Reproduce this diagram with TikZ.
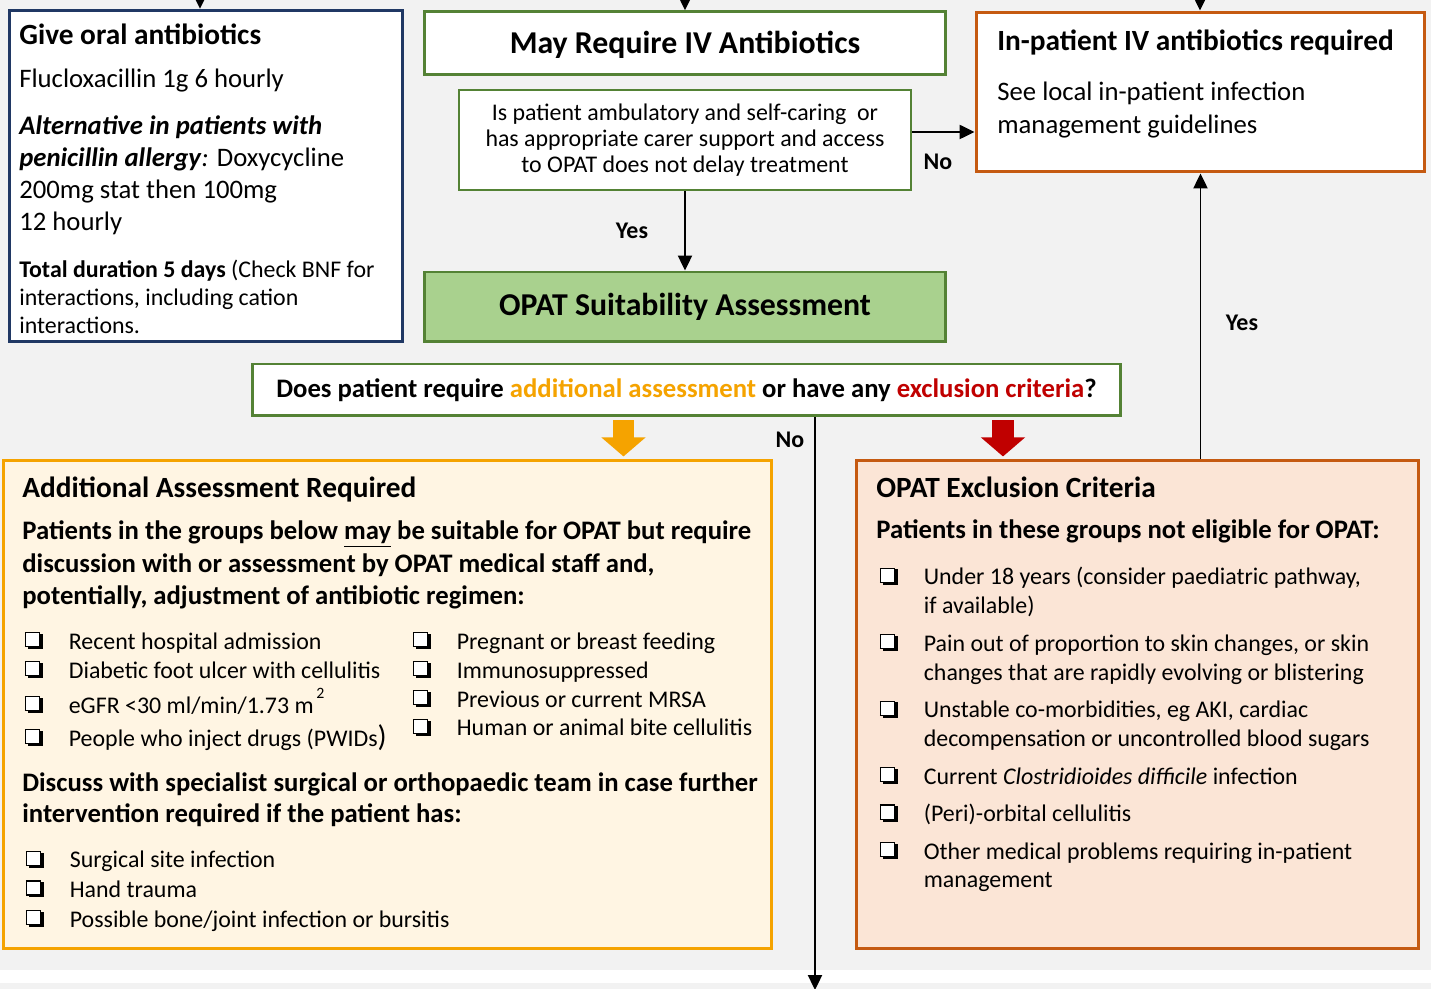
\documentclass[tikz,border=0pt]{standalone}
\usepackage{fontspec}
\setmainfont{Carlito}
\usetikzlibrary{arrows.meta,positioning}

\definecolor{bggray}{HTML}{F2F2F2}
\definecolor{navyline}{HTML}{203864}
\definecolor{greenline}{HTML}{548235}
\definecolor{greenfill}{HTML}{A9D18E}
\definecolor{rustline}{HTML}{C55A11}
\definecolor{rustfill}{HTML}{FBE5D6}
\definecolor{goldline}{HTML}{F5A300}
\definecolor{goldfill}{HTML}{FFF5E3}
\definecolor{exred}{HTML}{C00000}

\newcommand{\fs}[2]{\fontsize{#1}{#2}\selectfont}
% shadowed check box
\newcommand{\cbglyph}{%
  \rlap{\kern1.7pt\raisebox{-1.7pt}{\rule{8.8pt}{8.8pt}}}%
  {\setlength{\fboxsep}{0pt}\setlength{\fboxrule}{0.8pt}%
   \fcolorbox{black}{white}{\rule{0pt}{7.2pt}\hspace{7.2pt}}}}
\newcommand{\cb}{\makebox[0.89cm][l]{\kern0.3pt\raisebox{1.7pt}{\cbglyph}}}

\tikzset{
  box/.style={draw, line width=1.7pt, inner sep=0pt, fill=white},
  txt/.style={anchor=base west, align=left, inner sep=0pt},
  lbl/.style={font=\fs{13.6}{16}\bfseries, inner sep=0pt},
  arr/.style={-{Triangle[width=8pt,length=8.5pt]}, line width=1.1pt},
  fatarr/.style={-{Triangle[width=24.5pt,length=10.8pt]}, line width=12.5pt},
}

\begin{document}
\begin{tikzpicture}[x=0.02cm,y=-0.02cm]
\useasboundingbox (0,0) rectangle (1431,989);
\fill[bggray] (0,0) rectangle (1431,989);
\fill[white] (0,970) rectangle (1431,983);

% boxes
\node[box, draw=navyline, minimum width=7.87cm, minimum height=6.63cm] (oral) at (206,176) {};
\node[box, draw=greenline, minimum width=10.41cm, minimum height=1.25cm, text height=0.44cm, text depth=0pt, font=\fs{18.1}{22}\bfseries] (may) at (685,43) {May Require IV Antibiotics};
\node[box, draw=greenline, line width=1.2pt, minimum width=9.04cm, minimum height=2cm, align=center, font=\fs{13.6}{14.8}] (quest) at (685,140) {Is patient ambulatory and self-caring\ \ or\\has appropriate carer support and access\\to OPAT does not delay treatment};
\node[box, draw=rustline, minimum width=8.98cm, minimum height=3.2cm] (inpat) at (1200.5,92) {};
\node[box, draw=greenline, fill=greenfill, minimum width=10.41cm, minimum height=1.4cm, font=\fs{18.1}{22}\bfseries] (suit) at (685,307) {OPAT Suitability Assessment};
\node[box, draw=greenline, minimum width=17.38cm, minimum height=1.04cm, font=\fs{15.2}{18}\bfseries] (does) at (686.5,390) {Does patient require \textcolor{goldline}{additional assessment} or have any \textcolor{exred}{exclusion criteria}?};
\node[box, draw=goldline, fill=goldfill, minimum width=15.38cm, minimum height=9.78cm] (addl) at (387.5,704.5) {};
\node[box, draw=rustline, fill=rustfill, minimum width=11.26cm, minimum height=9.78cm] (excl) at (1137.5,704.5) {};

% oral antibiotics (multi-line texts sit on their last baseline)
\node[txt, font=\fs{16.7}{20}\bfseries] (oraltitle) at (19,45) {Give oral antibiotics};
\node[txt, font=\fs{15.2}{18}] (oraldose) at (19,88) {Flucloxacillin 1g 6 hourly};
\node[txt, font=\fs{15.2}{18.4}] (oralalt) at (19,231) {\textbf{\textit{Alternative in patients with}}\\\textbf{\textit{penicillin allergy}}\textit{:} Doxycycline\\200mg stat then 100mg\\12 hourly};
\node[txt, font=\fs{13.6}{16.2}] (oraltotal) at (19,334) {\textbf{Total duration 5 days} (Check BNF for\\interactions, including cation\\interactions.};

% in-patient
\node[txt, font=\fs{16.7}{20}\bfseries] (inpattitle) at (997,51) {In-patient IV antibiotics required};
\node[txt, font=\fs{15.2}{18.8}] (inpattext) at (997,134) {See local in-patient infection\\management guidelines};

% additional assessment
\node[txt, font=\fs{16.7}{20}\bfseries] (addltitle) at (22,498) {Additional Assessment Required};
\node[txt, font=\fs{15.2}{18.6}\bfseries] (addlintro) at (22,605) {Patients in the groups below \underline{may} be suitable for OPAT but require\\discussion with or assessment by OPAT medical staff and,\\potentially, adjustment of antibiotic regimen:};
\node[txt, font=\fs{13.6}{16.5}] (addlleft) at (24,746) {\cb Recent hospital admission\\\cb Diabetic foot ulcer with cellulitis\\[0.12cm]\cb eGFR <30 ml/min/1.73 m\raisebox{1.3ex}{\fs{9}{9}\,2}\\[0.08cm]\cb People who inject drugs (PWIDs{\fs{17}{17})}};
\node[txt, font=\fs{13.6}{16.5}] (addlright) at (412,736) {\cb Pregnant or breast feeding\\\cb Immunosuppressed\\\cb Previous or current MRSA\\\cb Human or animal bite cellulitis};
\node[txt, font=\fs{15.2}{18.2}\bfseries] (addldiscuss) at (22,823) {Discuss with specialist surgical or orthopaedic team in case further\\intervention required if the patient has:};
\node[txt, font=\fs{13.6}{16.8}] (addlsurg) at (25,927) {\cb Surgical site infection\\\cb Hand trauma\\\cb Possible bone/joint infection or bursitis};

% exclusion criteria
\node[txt, font=\fs{16.7}{20}\bfseries] (excltitle) at (876,498) {OPAT Exclusion Criteria};
\node[txt, font=\fs{15.2}{18}\bfseries] (exclintro) at (876,539) {Patients in these groups not eligible for OPAT:};
\node[txt, font=\fs{13.6}{16.5}] (excllist) at (879,888) {\cb Under 18 years (consider paediatric pathway,\\\hspace*{0.89cm}if available)\\[0.17cm]\cb Pain out of proportion to skin changes, or skin\\\hspace*{0.89cm}changes that are rapidly evolving or blistering\\[0.17cm]\cb Unstable co-morbidities, eg AKI, cardiac\\\hspace*{0.89cm}decompensation or uncontrolled blood sugars\\[0.17cm]\cb Current \textit{Clostridioides difficile} infection\\[0.17cm]\cb (Peri)-orbital cellulitis\\[0.17cm]\cb Other medical problems requiring in-patient\\\hspace*{0.89cm}management};

% connectors
\coordinate (oralin) at (200,-12);
\coordinate (mayin) at (685,-12);
\coordinate (inpatin) at (1200,-12);
\coordinate (outdown) at (815,990);
\coordinate (noy) at (0,132);
\coordinate (goldx) at (623.5,0);
\coordinate (redx) at (1003,0);

\draw[arr] (oralin) -- (oralin |- oral.north);
\draw[arr] (mayin) -- (may.north);
\draw[arr] (inpatin) -- (inpatin |- inpat.north);
\draw[arr] (quest.east |- noy) -- (inpat.west |- noy);
\draw[arr] (quest.south) -- (suit.north);
\draw[arr] (excl.north -| inpat.south) -- (inpat.south);
\draw[arr] (does.south -| outdown) -- (outdown);
\draw[fatarr, goldline, shorten <=1.7pt, shorten >=1.2pt] (does.south -| goldx) -- (addl.north -| goldx);
\draw[fatarr, exred, shorten <=1.7pt, shorten >=1.2pt] (does.south -| redx) -- (excl.north -| redx);

\node[lbl] (lblno1) at (938,162) {No};
\node[lbl] (lblyes1) at (632,231) {Yes};
\node[lbl] (lblyes2) at (1242,323) {Yes};
\node[lbl] (lblno2) at (790,440) {No};
\end{tikzpicture}
\end{document}
